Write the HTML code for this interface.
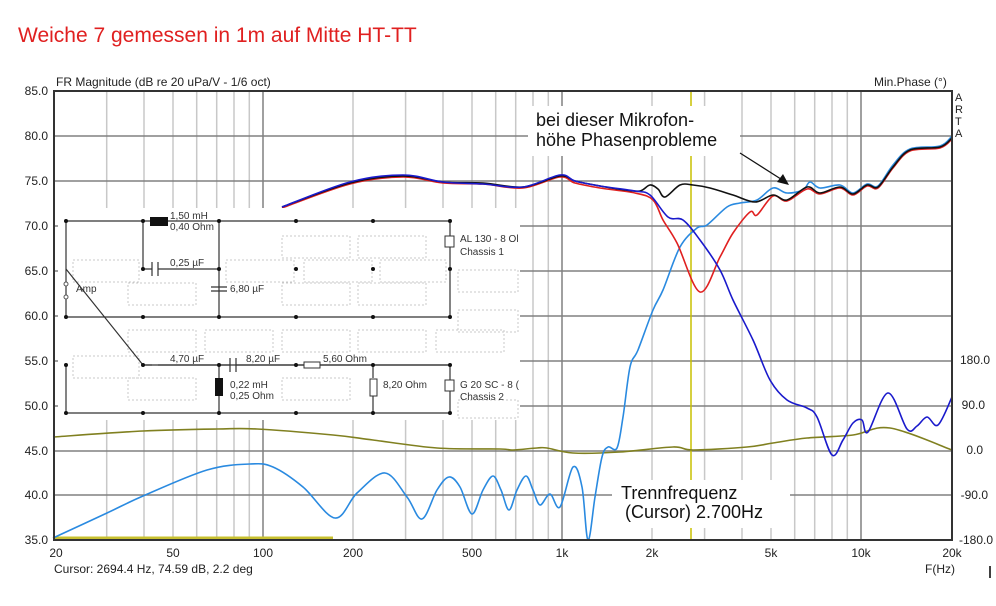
<!DOCTYPE html>
<html><head><meta charset="utf-8"><style>
body{margin:0;background:#fff;width:996px;height:606px;overflow:hidden}
svg{display:block}
text{font-family:"Liberation Sans",sans-serif}
</style></head><body>
<svg id="s" width="996" height="606" viewBox="0 0 996 606" xmlns="http://www.w3.org/2000/svg">
<rect width="996" height="606" fill="#fff"/>
<text x="18" y="42" font-size="21" fill="#e02020">Weiche 7 gemessen in 1m auf Mitte HT-TT</text>
<text x="56" y="86" font-size="12" fill="#222">FR Magnitude (dB re 20 uPa/V - 1/6 oct)</text>
<text x="874" y="86" font-size="12" fill="#222">Min.Phase (°)</text>
<g stroke="#c8c8c8" stroke-width="1.5">
<path d="M106.7 91V540M144 91V540M173 91V540M196.7 91V540M216.7 91V540M234 91V540M249.3 91V540M353 91V540M405.6 91V540M443 91V540M472 91V540M495.7 91V540M515.7 91V540M533 91V540M548.3 91V540M652 91V540M704.6 91V540M742 91V540M771 91V540M794.7 91V540M814.7 91V540M832 91V540M847.3 91V540"/>
</g>
<g stroke="#808080" stroke-width="1.5">
<path d="M263 91V540M562 91V540M861 91V540"/>
<path d="M54 136H952M54 181H952M54 226H952M54 271H952M54 316H952M54 361H952M54 406H952M54 451H952M54 495H952"/>
</g>
<g font-size="12" fill="#222" text-anchor="end">
<text x="48" y="95">85.0</text><text x="48" y="140">80.0</text><text x="48" y="185">75.0</text><text x="48" y="230">70.0</text><text x="48" y="275">65.0</text><text x="48" y="320">60.0</text><text x="48" y="365">55.0</text><text x="48" y="410">50.0</text><text x="48" y="455">45.0</text><text x="48" y="499">40.0</text><text x="48" y="544">35.0</text>
</g>
<g font-size="12" fill="#222" text-anchor="end">
<text x="990" y="364">180.0</text><text x="985" y="409">90.0</text><text x="983" y="454">0.0</text><text x="988" y="499">-90.0</text><text x="993" y="544">-180.0</text>
</g>
<g font-size="12" fill="#222" text-anchor="middle">
<text x="56" y="557">20</text><text x="173" y="557">50</text><text x="263" y="557">100</text><text x="353" y="557">200</text><text x="472" y="557">500</text><text x="562" y="557">1k</text><text x="652" y="557">2k</text><text x="771" y="557">5k</text><text x="861" y="557">10k</text><text x="952" y="557">20k</text>
</g>
<text x="940" y="573" font-size="12" fill="#222" text-anchor="middle">F(Hz)</text>
<text x="54" y="573" font-size="12" fill="#222">Cursor: 2694.4 Hz, 74.59 dB, 2.2 deg</text>
<g font-size="11" fill="#222"><text x="955" y="101">A</text><text x="955" y="113">R</text><text x="955" y="125">T</text><text x="955" y="137">A</text></g>
<path d="M990 566V578" stroke="#000" stroke-width="1.5"/>
<line x1="691" y1="91" x2="691" y2="540" stroke="#c8c000" stroke-width="1.5"/>
<line x1="54" y1="538" x2="333" y2="538" stroke="#c8c030" stroke-width="3"/>
<g fill="none" stroke-width="1.6" stroke-linejoin="round">
<polyline class="c" stroke="#808020" points="53,437 143,431 217,429 257,429 333,435 373,440 437,448 500,449 513,450 537,448 547,448 573,453 620,452 673,447 693,450 747,447 773,443 807,438 853,435 890,428 952,450"/>
<polyline class="c" stroke="#2a8ae0" points="53,538 107,513 143,496 207,470 250,464 273,467 303,487 335,518 357,493 385,473 407,497 422,519 437,490 449,477 460,487 472,514 483,490 493,476 501,490 509,510 517,490 526,476 533,490 540,505 550,494 560,507 573,467 582,487 588,540 595,497 602,457 608,447 617,448 623,417 630,367 638,350 653,310 663,290 680,247 697,228 707,225 727,207 740,203 757,200 773,188 787,193 803,190 810,182 820,188 840,185 853,193 867,184 878,186 893,165 910,149 940,146 952,136"/>
<polyline class="c" stroke="#e02020" points="282,208 350,184 403,177 443,183 483,184 523,188 560,177 575,183 600,188 635,193 653,200 663,220 677,243 700,292 720,257 733,233 750,212 757,215 773,196 787,201 807,189 820,194 840,188 853,195 867,186 878,188 893,168 910,151 940,148 952,139"/>
<polyline class="c" stroke="#111" points="282,207 350,183 403,176 443,182 483,183 523,187 560,176 575,181 600,186 625,190 640,191 650,185 658,189 665,197 680,185 693,185 710,188 733,195 755,202 773,195 787,200 807,187 820,193 840,187 853,194 867,185 878,187 893,167 910,150 940,147 952,138"/>
<polyline class="c" stroke="#1a1acc" points="282,207 350,182 403,175 443,182 483,184 523,187 560,175 575,181 600,186 635,191 650,195 668,217 683,220 700,240 720,270 733,300 753,340 770,380 787,400 807,408 817,417 832,455 843,440 853,423 862,420 868,432 888,393 907,429 917,426 927,417 938,425 952,397"/>
</g>
<rect x="58" y="208" width="462" height="212" fill="#fff"/>
<g fill="none" stroke="#c8c8c8" stroke-dasharray="2,2" stroke-width="1">
<rect x="73" y="260" width="66" height="22"/><rect x="128" y="283" width="68" height="22"/><rect x="282" y="236" width="68" height="22"/><rect x="358" y="236" width="68" height="22"/><rect x="226" y="260" width="68" height="22"/><rect x="304" y="260" width="68" height="22"/><rect x="380" y="260" width="66" height="22"/><rect x="282" y="283" width="68" height="22"/><rect x="358" y="283" width="68" height="22"/><rect x="458" y="270" width="60" height="22"/><rect x="458" y="310" width="60" height="22"/><rect x="128" y="330" width="68" height="22"/><rect x="205" y="330" width="68" height="22"/><rect x="282" y="330" width="68" height="22"/><rect x="358" y="330" width="68" height="22"/><rect x="436" y="330" width="68" height="22"/><rect x="73" y="356" width="66" height="22"/><rect x="128" y="378" width="68" height="22"/><rect x="282" y="378" width="68" height="22"/><rect x="458" y="400" width="60" height="18"/>
</g>
<g stroke="#333" stroke-width="1.2" fill="none">
<path d="M66 221H450V317H66ZM66 365V413H450V365H143M143 221V269H152M158 269H219M219 221V317"/>
<path d="M66 269L143 365M152 365H143M158 365H230M236 365H304M320 365H450M219 365V378M219 396V413M373 365V378M373 396V413"/>
<path d="M152 262V276M158 262V276M230 358V372M236 358V372M211 287H227M211 291H227"/>
</g>
<g fill="#111">
<rect x="150" y="217" width="18" height="9"/><rect x="215" y="378" width="8" height="18"/>
<circle cx="66" cy="221" r="2"/><circle cx="143" cy="221" r="2"/><circle cx="219" cy="221" r="2"/><circle cx="296" cy="221" r="2"/><circle cx="373" cy="221" r="2"/><circle cx="450" cy="221" r="2"/>
<circle cx="143" cy="269" r="2"/><circle cx="219" cy="269" r="2"/><circle cx="296" cy="269" r="2"/><circle cx="373" cy="269" r="2"/><circle cx="450" cy="269" r="2"/>
<circle cx="66" cy="317" r="2"/><circle cx="143" cy="317" r="2"/><circle cx="219" cy="317" r="2"/><circle cx="296" cy="317" r="2"/><circle cx="373" cy="317" r="2"/><circle cx="450" cy="317" r="2"/>
<circle cx="66" cy="365" r="2"/><circle cx="143" cy="365" r="2"/><circle cx="219" cy="365" r="2"/><circle cx="296" cy="365" r="2"/><circle cx="373" cy="365" r="2"/><circle cx="450" cy="365" r="2"/>
<circle cx="66" cy="413" r="2"/><circle cx="143" cy="413" r="2"/><circle cx="219" cy="413" r="2"/><circle cx="296" cy="413" r="2"/><circle cx="373" cy="413" r="2"/><circle cx="450" cy="413" r="2"/>
</g>
<rect x="304" y="362" width="16" height="6" fill="#fff" stroke="#333"/>
<rect x="370" y="379" width="7" height="17" fill="#fff" stroke="#333"/>
<rect x="445" y="236" width="9" height="11" fill="#fff" stroke="#333"/>
<rect x="445" y="380" width="9" height="11" fill="#fff" stroke="#333"/>
<circle cx="66" cy="284" r="2" fill="#fff" stroke="#555"/><circle cx="66" cy="297" r="2" fill="#fff" stroke="#555"/>
<g font-size="10" fill="#333">
<text x="170" y="219">1,50 mH</text><text x="170" y="230">0,40 Ohm</text><text x="170" y="266">0,25 µF</text><text x="230" y="292">6,80 µF</text><text x="76" y="292">Amp</text>
<text x="460" y="242">AL 130 - 8 Ol</text><text x="460" y="255">Chassis 1</text>
<text x="170" y="362">4,70 µF</text><text x="246" y="362">8,20 µF</text><text x="323" y="362">5,60 Ohm</text>
<text x="230" y="388">0,22 mH</text><text x="230" y="399">0,25 Ohm</text><text x="383" y="388">8,20 Ohm</text>
<text x="460" y="388">G 20 SC - 8 (</text><text x="460" y="400">Chassis 2</text>
</g>
<rect x="528" y="106" width="212" height="50" fill="#fff"/>
<text x="536" y="126" font-size="18" fill="#111">bei dieser Mikrofon-</text>
<text x="536" y="146" font-size="18" fill="#111">höhe Phasenprobleme</text>
<line x1="740" y1="153" x2="784" y2="181" stroke="#111" stroke-width="1.2"/>
<polygon points="789,185 777,182 783,174" fill="#111"/>
<rect x="612" y="480" width="178" height="48" fill="#fff"/>
<text x="621" y="499" font-size="18" fill="#111">Trennfrequenz</text>
<text x="625" y="518" font-size="18" fill="#111">(Cursor) 2.700Hz</text>
<rect x="54" y="91" width="898" height="449" fill="none" stroke="#333" stroke-width="2"/>
</svg>
<script>
document.querySelectorAll('polyline.c').forEach(function(pl){
var p=pl.getAttribute('points').trim().split(/\s+/).map(function(s){return s.split(',').map(Number);});
var d='M'+p[0][0]+' '+p[0][1];
for(var i=0;i<p.length-1;i++){
var p0=p[i-1]||p[i],p1=p[i],p2=p[i+1],p3=p[i+2]||p2;
var c1x=p1[0]+(p2[0]-p0[0])/6,c1y=p1[1]+(p2[1]-p0[1])/6;
var c2x=p2[0]-(p3[0]-p1[0])/6,c2y=p2[1]-(p3[1]-p1[1])/6;
d+=' C'+c1x.toFixed(1)+' '+c1y.toFixed(1)+' '+c2x.toFixed(1)+' '+c2y.toFixed(1)+' '+p2[0]+' '+p2[1];}
var path=document.createElementNS('http://www.w3.org/2000/svg','path');
path.setAttribute('d',d);path.setAttribute('stroke',pl.getAttribute('stroke'));
path.setAttribute('fill','none');path.setAttribute('stroke-width','1.6');
pl.parentNode.replaceChild(path,pl);});
</script>
</body></html>
